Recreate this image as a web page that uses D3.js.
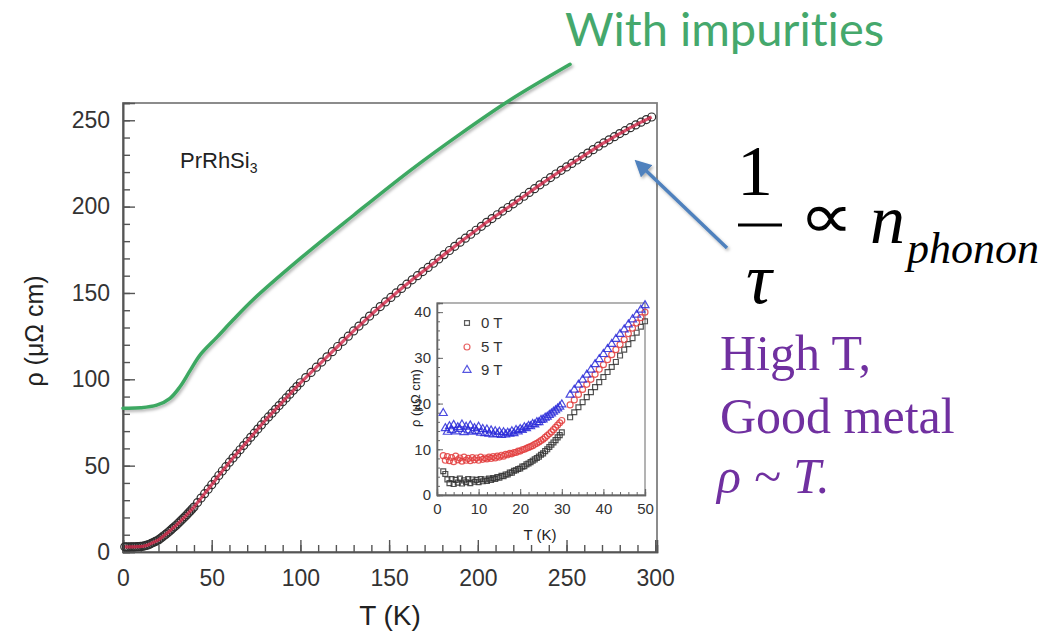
<!DOCTYPE html>
<html>
<head>
<meta charset="utf-8">
<script src="https://cdn.jsdelivr.net/npm/d3@7"></script>
<style>
  html, body { margin: 0; padding: 0; background: #fff; }
  svg { display: block; }
</style>
</head>
<body>
<svg id="chart" width="1054" height="632"></svg>
<script>
// PrRhSi3 resistivity, zero field (open circles + fit line)
const mainT = [1,2,3,4,5,6,7,8,9,10,11,12,13,14,15,16,17,18,19,20,21,22,23,24,25,26,27,28,29,30,31,32,33,34,35,36,37,38,39,40,
  42,44,46,48,50,52,54,56,58,60,62,64,66,68,70,72,74,76,78,80,82,84,86,88,90,92,94,96,98,100,
  103,106,109,112,115,118,121,124,127,130,133,136,139,142,145,148,151,154,157,160,163,166,169,172,175,178,181,184,187,190,
  193,196,199,202,205,208,211,214,217,220,223,226,229,232,235,238,241,244,247,250,253,256,259,262,265,268,271,274,277,280,
  283,286,289,292,295,298];
const mainRho = [3.0,3.0,2.9,3.0,3.0,3.0,3.0,3.1,3.1,3.2,3.3,3.5,3.8,4.1,4.5,5.0,5.5,6.0,6.5,7.0,7.8,8.6,9.4,10.2,11.0,11.9,12.8,13.7,14.6,15.5,16.5,17.5,18.5,19.5,20.5,21.6,22.7,23.8,24.9,26.0,
  28.6,31.2,33.8,36.4,39.0,41.6,44.3,46.9,49.4,52.0,54.4,56.8,59.2,61.6,64.0,66.4,68.8,71.2,73.6,76.0,78.2,80.4,82.6,84.8,87.0,89.2,91.4,93.6,95.8,98.0,
  101.0,104.0,107.0,110.0,113.0,116.0,119.0,122.0,125.0,128.0,130.8,133.7,136.6,139.4,142.1,144.8,147.4,150.0,152.6,155.1,
  157.6,160.0,162.4,164.8,167.2,169.7,172.2,174.6,177.0,179.4,181.7,184.0,186.3,188.6,190.9,193.1,195.3,197.4,199.5,201.6,
  203.8,206.0,208.2,210.4,212.6,214.7,216.8,218.9,221.0,223.0,225.0,227.0,229.0,231.0,233.0,235.0,236.9,238.7,240.5,242.3,
  244.0,245.7,247.3,248.9,250.4,251.9];

// Sketched curve for the sample with impurities
const dirtyT = [0, 10, 19, 26.5, 32, 37.8, 43.4, 53, 62, 73, 100, 130, 162, 190, 218, 252];
const dirtyRho = [83.3, 83.5, 85, 89, 95.5, 105, 114, 124.4, 134.3, 145.8, 170, 195, 221, 242, 261.6, 282.4];

// Low-temperature inset: 0 T, 5 T, 9 T
const insetT = [1.5,2,2.5,3,3.5,4,4.5,5,5.5,6,6.5,7,7.5,8,8.5,9,9.5,10,10.5,11,11.5,12,12.5,13,13.5,14,14.5,15,15.5,16,
  16.5,17,17.5,18,18.5,19,19.5,20,20.5,21,21.5,22,22.5,23,23.5,24,24.5,25,25.5,26,26.5,27,27.5,28,28.5,29,29.5,30,
  32,33,34,35,36,37,38,39,40,41,42,43,44,45,46,47,48,49,50];
const rho0T = [5.2,4.6,3.4,2.6,3.5,2.4,3.3,2.7,3.6,2.5,3.2,2.8,3.5,2.6,3.4,2.9,3.3,2.8,3.5,3.0,3.4,3.1,3.6,3.3,3.7,3.5,3.9,3.8,4.2,4.1,
  4.5,4.5,4.9,4.9,5.3,5.4,5.7,5.8,6.2,6.3,6.7,6.9,7.2,7.5,7.8,8.1,8.4,8.8,9.1,9.6,10.0,10.5,11.0,11.5,12.0,12.6,13.1,13.7,
  17.0,18.1,19.2,20.3,21.4,22.5,23.6,24.7,25.8,26.9,28.0,29.1,30.5,31.8,33.0,34.3,35.5,36.8,38.0];
const rho5T = [8.6,7.6,8.4,7.5,8.2,7.3,8.5,7.7,8.1,7.4,8.3,7.6,8.0,7.5,8.2,7.7,8.1,7.6,8.3,7.8,8.1,7.9,8.3,8.0,8.4,8.1,8.5,8.3,8.7,8.5,
  8.9,8.8,9.1,9.0,9.3,9.3,9.6,9.6,9.9,10.0,10.2,10.4,10.6,10.8,11.1,11.3,11.6,11.9,12.2,12.6,13.0,13.4,13.8,14.3,14.8,15.3,15.8,16.3,
  19.7,20.8,22.0,23.1,24.2,25.3,26.4,27.5,28.5,29.6,30.7,31.8,32.9,34.0,35.3,36.5,37.6,38.8,40.0];
const rho9T = [17.9,14.6,13.8,15.0,14.2,15.3,13.9,14.8,14.4,15.4,13.7,14.9,14.1,15.2,13.8,14.6,14.0,14.9,13.6,14.4,13.5,14.3,13.4,14.1,13.2,13.9,13.3,13.8,13.1,13.7,
  13.2,13.6,13.4,13.9,13.5,14.2,13.9,14.4,14.2,14.8,14.6,15.1,15.0,15.5,15.4,15.9,15.9,16.4,16.5,16.9,17.1,17.5,17.8,18.2,18.5,18.9,19.3,19.8,
  21.9,23.0,24.1,25.2,26.3,27.4,28.6,29.7,30.8,31.9,33.0,34.1,35.2,36.2,37.3,38.4,39.4,40.5,41.5];
const insetSeries = ["0 T", "5 T", "9 T"];

// Tick labels
const mainXTicks = [0, 50, 100, 150, 200, 250, 300];
const mainYTicks = [0, 50, 100, 150, 200, 250];
const insetXTicks = [0, 10, 20, 30, 40, 50];
const insetYTicks = [0, 10, 20, 30, 40];

const svg = d3.select("#chart");
const sans = "'Liberation Sans', Arial, Helvetica, sans-serif";
const serif = "'Liberation Serif', 'Times New Roman', Times, serif";

// ---------- main panel ----------
const x = d3.scaleLinear().domain([0, 301]).range([123, 657]);
const y = d3.scaleLinear().domain([0, 260]).range([552, 103]);

svg.append("rect").attr("x", x(0)).attr("y", y(260))
  .attr("width", x(301) - x(0)).attr("height", y(0) - y(260))
  .attr("fill", "#fff").attr("stroke", "#808080").attr("stroke-width", 1.8);

function styleAxis(g, size) {
  g.select(".domain").attr("stroke", "#555").attr("stroke-width", 1.6);
  g.selectAll(".tick line").attr("stroke", "#555").attr("stroke-width", 1.4);
  g.selectAll(".tick text").attr("fill", "#333").attr("font-family", sans).attr("font-size", size);
}

// minor ticks
svg.append("g").attr("transform", `translate(0,${y(0)})`)
  .call(d3.axisBottom(x).tickValues(d3.range(0, 301, 10)).tickSize(-7).tickFormat(""))
  .call(g => styleAxis(g, 0));
svg.append("g").attr("transform", `translate(${x(0)},0)`)
  .call(d3.axisLeft(y).tickValues(d3.range(0, 261, 10)).tickSize(-7).tickFormat(""))
  .call(g => styleAxis(g, 0));
// major ticks
svg.append("g").attr("transform", `translate(0,${y(0)})`)
  .call(d3.axisBottom(x).tickValues(mainXTicks).tickSize(-12).tickPadding(18))
  .call(g => styleAxis(g, 23));
svg.append("g").attr("transform", `translate(${x(0)},0)`)
  .call(d3.axisLeft(y).tickValues(mainYTicks).tickSize(-12).tickPadding(13))
  .call(g => styleAxis(g, 23));

svg.append("text").attr("x", 390).attr("y", 625).attr("text-anchor", "middle")
  .attr("font-family", sans).attr("font-size", 28).attr("fill", "#222").text("T (K)");
svg.append("text").attr("transform", "translate(43,331) rotate(-90)").attr("text-anchor", "middle")
  .attr("font-family", sans).attr("font-size", 25).attr("fill", "#222").text("ρ (μΩ cm)");

const label = svg.append("text").attr("x", 180).attr("y", 168)
  .attr("font-family", sans).attr("font-size", 22).attr("fill", "#222");
label.append("tspan").text("PrRhSi");
label.append("tspan").attr("font-size", 14).attr("dy", 5).text("3");

// data points and fit
const mainData = mainT.map((t, i) => ({ t, r: mainRho[i] }));
svg.append("g").selectAll("circle").data(mainData).join("circle")
  .attr("cx", d => x(d.t)).attr("cy", d => y(d.r)).attr("r", 4)
  .attr("fill", "none").attr("stroke", "#2e2e2e").attr("stroke-width", 1.2);
svg.append("path").datum(mainData)
  .attr("d", d3.line().x(d => x(d.t)).y(d => y(d.r)).curve(d3.curveMonotoneX))
  .attr("fill", "none").attr("stroke", "#d22848").attr("stroke-width", 3.2).attr("stroke-opacity", 0.8);

// ---------- inset ----------
const x2 = d3.scaleLinear().domain([0, 50]).range([437, 645]);
const y2 = d3.scaleLinear().domain([0, 42]).range([495, 303]);

svg.append("rect").attr("x", x2(0)).attr("y", y2(42))
  .attr("width", x2(50) - x2(0)).attr("height", y2(0) - y2(42))
  .attr("fill", "#fff").attr("stroke", "#8a8a8a").attr("stroke-width", 1.3);

function styleInset(g, size) {
  g.select(".domain").attr("stroke", "#666").attr("stroke-width", 1.3);
  g.selectAll(".tick line").attr("stroke", "#666").attr("stroke-width", 1);
  g.selectAll(".tick text").attr("fill", "#333").attr("font-family", sans).attr("font-size", size);
}
svg.append("g").attr("transform", `translate(0,${y2(0)})`)
  .call(d3.axisBottom(x2).tickValues(d3.range(0, 51, 2)).tickSize(-3).tickFormat(""))
  .call(g => styleInset(g, 0));
svg.append("g").attr("transform", `translate(${x2(0)},0)`)
  .call(d3.axisLeft(y2).tickValues(d3.range(0, 43, 2)).tickSize(-3).tickFormat(""))
  .call(g => styleInset(g, 0));
svg.append("g").attr("transform", `translate(0,${y2(0)})`)
  .call(d3.axisBottom(x2).tickValues(insetXTicks).tickSize(-6).tickPadding(8))
  .call(g => styleInset(g, 15));
svg.append("g").attr("transform", `translate(${x2(0)},0)`)
  .call(d3.axisLeft(y2).tickValues(insetYTicks).tickSize(-6).tickPadding(6))
  .call(g => styleInset(g, 15));

svg.append("text").attr("x", 540).attr("y", 540).attr("text-anchor", "middle")
  .attr("font-family", sans).attr("font-size", 15).attr("fill", "#222").text("T (K)");
svg.append("text").attr("transform", "translate(420,398) rotate(-90)").attr("text-anchor", "middle")
  .attr("font-family", sans).attr("font-size", 13).attr("fill", "#222").text("ρ (μΩ cm)");

const insetStyle = [
  { vals: rho0T, color: "#333333", shape: d3.symbolSquare, size: 24 },
  { vals: rho5T, color: "#e23c3c", shape: d3.symbolCircle, size: 28 },
  { vals: rho9T, color: "#2a2ad8", shape: d3.symbolTriangle, size: 28 }
];
insetStyle.forEach(s => {
  const pts = insetT.map((t, i) => ({ t, r: s.vals[i] }));
  svg.append("g").selectAll("path").data(pts).join("path")
    .attr("transform", d => `translate(${x2(d.t)},${y2(d.r)})`)
    .attr("d", d3.symbol().type(s.shape).size(s.size))
    .attr("fill", "none").attr("stroke", s.color).attr("stroke-width", 1.2).attr("stroke-opacity", 0.85);
});

// inset legend
const legendY = [323, 347, 370];
insetSeries.forEach((name, i) => {
  const s = insetStyle[i];
  svg.append("path").attr("transform", `translate(467,${legendY[i]})`)
    .attr("d", d3.symbol().type(s.shape).size(s.size))
    .attr("fill", "none").attr("stroke", s.color).attr("stroke-width", 1.2).attr("stroke-opacity", 0.8);
  svg.append("text").attr("x", 481).attr("y", legendY[i] + 5)
    .attr("font-family", sans).attr("font-size", 15).attr("fill", "#333").text(name);
});

// ---------- annotations ----------
const defs = svg.append("defs");
defs.append("filter").attr("id", "shadow").attr("x", "-10%").attr("y", "-10%").attr("width", "130%").attr("height", "130%")
  .append("feDropShadow").attr("dx", 1.5).attr("dy", 2).attr("stdDeviation", 1.5)
  .attr("flood-color", "#000").attr("flood-opacity", 0.3);
defs.append("marker").attr("id", "head").attr("viewBox", "0 0 10 10").attr("refX", 8).attr("refY", 5)
  .attr("markerWidth", 4.8).attr("markerHeight", 4.8).attr("orient", "auto")
  .append("path").attr("d", "M0,0 L10,5 L0,10 Z").attr("fill", "#4f81bd");

const dirtyData = dirtyT.map((t, i) => ({ t, r: dirtyRho[i] }));
svg.append("path").datum(dirtyData)
  .attr("d", d3.line().x(d => x(d.t)).y(d => y(d.r)).curve(d3.curveCatmullRom))
  .attr("fill", "none").attr("stroke", "#3ea862").attr("stroke-width", 3.5)
  .attr("stroke-linecap", "round").attr("filter", "url(#shadow)");

svg.append("text").attr("x", 565).attr("y", 46)
  .attr("font-family", "Lato, 'Open Sans', sans-serif").attr("font-size", 47).attr("fill", "#45a86c")
  .style("font-variant-ligatures", "none").style("font-feature-settings", "'liga' 0")
  .text("With impurities");

svg.append("line").attr("x1", 727).attr("y1", 248).attr("x2", 637).attr("y2", 162)
  .attr("stroke", "#4f81bd").attr("stroke-width", 3.5).attr("marker-end", "url(#head)")
  .attr("filter", "url(#shadow)");

// 1/τ ∝ n_phonon
svg.append("text").attr("x", 755).attr("y", 195).attr("text-anchor", "middle")
  .attr("font-family", serif).attr("font-size", 72).attr("fill", "#000").text("1");
svg.append("line").attr("x1", 738).attr("x2", 782).attr("y1", 225).attr("y2", 225)
  .attr("stroke", "#000").attr("stroke-width", 3);
svg.append("text").attr("x", 759).attr("y", 303).attr("text-anchor", "middle")
  .attr("font-family", serif).attr("font-style", "italic").attr("font-size", 72).attr("fill", "#000").text("τ");
// the proportional sign is stretched into its box [803..850] x [211..235]
const prop = svg.append("text").attr("x", 0).attr("y", 0)
  .attr("font-family", serif).attr("font-size", 64).attr("fill", "#000").text("∝");
{
  const b = prop.node().getBBox();
  // glyph ink is narrower than the advance box; use the inner part of the bbox
  const inkW = b.width * 0.86, inkX = b.x + b.width * 0.07;
  const inkH = b.height * 0.34, inkY = b.y + b.height * 0.42;
  const sx = 47 / inkW, sy = 24 / inkH;
  prop.attr("transform", `translate(${803 - inkX * sx},${211 - inkY * sy}) scale(${sx},${sy})`);
}
svg.append("text").attr("x", 870).attr("y", 243)
  .attr("font-family", serif).attr("font-style", "italic").attr("font-size", 70).attr("fill", "#000").text("n");
svg.append("text").attr("x", 907).attr("y", 263)
  .attr("font-family", serif).attr("font-style", "italic").attr("font-size", 44).attr("fill", "#000").text("phonon");

// High-T remarks
const purple = "#7030a0";
svg.append("text").attr("x", 720).attr("y", 370)
  .attr("font-family", serif).attr("font-size", 50).attr("fill", purple).text("High T,");
svg.append("text").attr("x", 720).attr("y", 433)
  .attr("font-family", serif).attr("font-size", 50).attr("fill", purple).text("Good metal");
svg.append("text").attr("x", 717).attr("y", 493)
  .attr("font-family", serif).attr("font-style", "italic").attr("font-size", 50).attr("fill", purple).text("ρ ~ T.");
</script>
</body>
</html>
